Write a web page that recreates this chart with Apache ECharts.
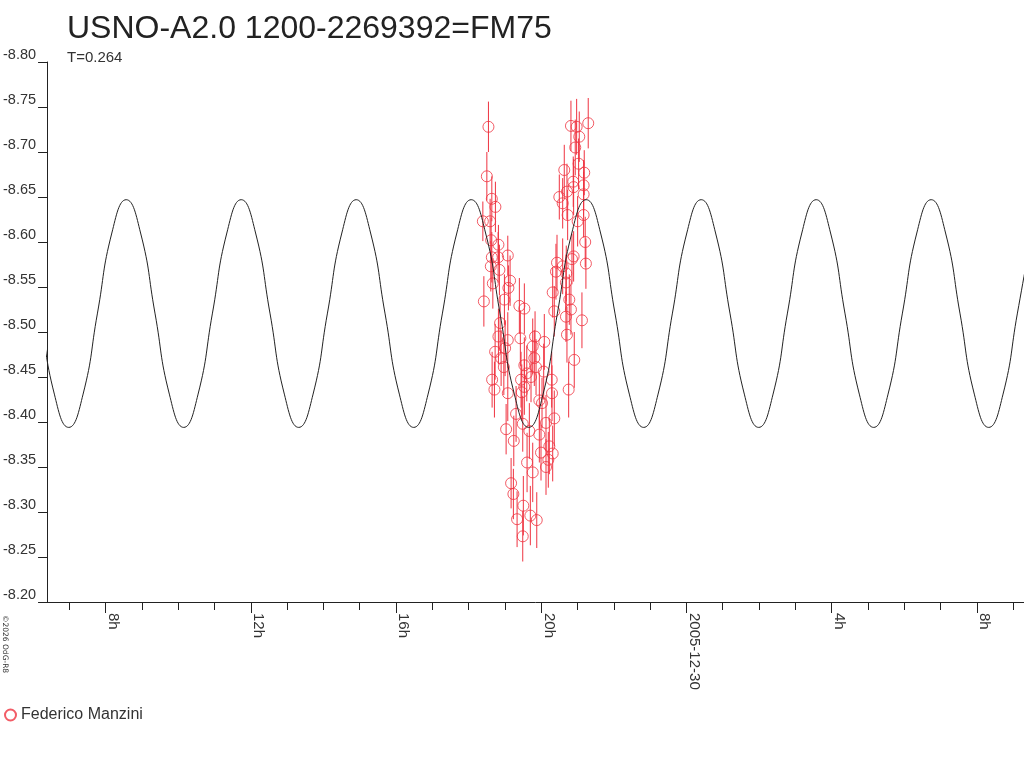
<!DOCTYPE html>
<html>
<head>
<meta charset="utf-8">
<script src="https://cdn.jsdelivr.net/npm/echarts@6/dist/echarts.min.js"></script>
<style>
  html, body { margin: 0; padding: 0; background: #fff; }
  #chart { width: 1024px; height: 768px; }
</style>
</head>
<body>
<div id="chart"></div>
<script>
// hours counted from 2005-12-29 00:00
const obsTime = [
  18.546, 18.502, 18.639, 18.738, 18.392, 18.592, 18.620, 18.821, 19.079, 20.819,
  20.976, 21.295, 21.048, 20.937, 21.030, 21.185, 20.635, 20.882, 21.168, 20.709,
  20.498, 21.168, 20.591, 20.893, 20.728, 21.003, 21.168, 21.212, 20.893, 18.639,
  18.848, 19.142, 19.096, 18.667, 18.420, 18.986, 19.398, 19.535, 18.821, 19.079,
  19.425, 19.830, 20.085, 19.766, 18.730, 18.895, 19.535, 19.810, 18.970, 18.647,
  18.711, 19.079, 19.444, 19.535, 19.857, 19.719, 20.289, 20.297, 20.756, 20.910,
  21.231, 20.435, 20.406, 20.591, 20.681, 20.316, 20.773, 20.819, 20.360, 20.681,
  21.122, 20.709, 19.948, 20.068, 19.033, 19.244, 19.307, 19.491, 19.673, 19.948,
  20.132, 20.360, 20.022, 20.223, 19.994, 20.316, 20.195, 20.132, 19.610, 19.766,
  19.170, 19.233, 19.507, 19.335, 19.700, 19.877, 19.491, 18.813, 18.611, 18.867,
  19.005, 19.464, 19.602, 20.847, 20.690
];
const obsMag = [
  -8.728, -8.673, -8.648, -8.639, -8.623, -8.623, -8.602, -8.597, -8.585, -8.729,
  -8.728, -8.732, -8.717, -8.705, -8.687, -8.677, -8.680, -8.667, -8.663, -8.656,
  -8.650, -8.653, -8.643, -8.661, -8.630, -8.623, -8.630, -8.600, -8.584, -8.583,
  -8.569, -8.557, -8.549, -8.554, -8.534, -8.536, -8.529, -8.526, -8.495, -8.491,
  -8.493, -8.495, -8.489, -8.484, -8.478, -8.471, -8.463, -8.471, -8.461, -8.447,
  -8.436, -8.432, -8.447, -8.439, -8.461, -8.450, -8.447, -8.432, -8.436, -8.469,
  -8.576, -8.577, -8.567, -8.573, -8.555, -8.544, -8.536, -8.525, -8.523, -8.517,
  -8.513, -8.497, -8.424, -8.456, -8.392, -8.379, -8.409, -8.398, -8.390, -8.386,
  -8.399, -8.404, -8.421, -8.373, -8.366, -8.365, -8.358, -8.350, -8.355, -8.344,
  -8.332, -8.320, -8.307, -8.292, -8.296, -8.291, -8.273, -8.583, -8.573, -8.510,
  -8.482, -8.433, -8.454, -8.581, -8.565
];
const obsErr = [
  0.028, 0.027, 0.025, 0.028, 0.022, 0.025, 0.025, 0.022, 0.022, 0.028,
  0.031, 0.028, 0.028, 0.031, 0.028, 0.025, 0.028, 0.028, 0.028, 0.031,
  0.025, 0.025, 0.028, 0.031, 0.028, 0.028, 0.025, 0.028, 0.028, 0.028,
  0.028, 0.028, 0.025, 0.028, 0.028, 0.028, 0.031, 0.028, 0.031, 0.031,
  0.031, 0.028, 0.031, 0.031, 0.031, 0.031, 0.031, 0.031, 0.031, 0.031,
  0.031, 0.031, 0.031, 0.031, 0.031, 0.028, 0.031, 0.031, 0.031, 0.031,
  0.028, 0.031, 0.031, 0.031, 0.031, 0.028, 0.028, 0.028, 0.028, 0.028,
  0.031, 0.031, 0.031, 0.031, 0.028, 0.028, 0.031, 0.031, 0.031, 0.031,
  0.031, 0.031, 0.028, 0.031, 0.031, 0.031, 0.031, 0.031, 0.033, 0.033,
  0.028, 0.028, 0.033, 0.031, 0.033, 0.031, 0.028, 0.028, 0.028, 0.031,
  0.031, 0.031, 0.031, 0.028, 0.031
];

// fitted light curve, read at eighth-period steps
const fitTime = [
  5.399, 5.795, 6.191, 6.587, 6.983, 7.379, 7.775, 8.171,
  8.567, 8.963, 9.359, 9.755, 10.151, 10.547, 10.943, 11.339,
  11.735, 12.131, 12.527, 12.923, 13.319, 13.715, 14.111, 14.507,
  14.903, 15.299, 15.695, 16.091, 16.487, 16.883, 17.279, 17.675,
  18.071, 18.467, 18.863, 19.259, 19.655, 20.051, 20.447, 20.843,
  21.239, 21.635, 22.031, 22.427, 22.823, 23.219, 23.615, 24.011,
  24.407, 24.803, 25.199, 25.595, 25.991, 26.387, 26.783, 27.179,
  27.575, 27.971, 28.367, 28.763, 29.159, 29.555, 29.951, 30.347,
  30.743, 31.139, 31.535, 31.931, 32.327, 32.723, 33.119, 33.515
];
const fitMag = [
  -8.647, -8.610, -8.521, -8.431, -8.394, -8.431, -8.521, -8.610,
  -8.647, -8.610, -8.521, -8.431, -8.394, -8.431, -8.521, -8.610,
  -8.647, -8.610, -8.521, -8.431, -8.394, -8.431, -8.521, -8.610,
  -8.647, -8.610, -8.521, -8.431, -8.394, -8.431, -8.521, -8.610,
  -8.647, -8.610, -8.521, -8.431, -8.394, -8.431, -8.521, -8.610,
  -8.647, -8.610, -8.521, -8.431, -8.394, -8.431, -8.521, -8.610,
  -8.647, -8.610, -8.521, -8.431, -8.394, -8.431, -8.521, -8.610,
  -8.647, -8.610, -8.521, -8.431, -8.394, -8.431, -8.521, -8.610,
  -8.647, -8.610, -8.521, -8.431, -8.394, -8.431, -8.521, -8.610
];

const xMinorTicks = [7, 8, 9, 10, 11, 12, 13, 14, 15, 16, 17, 18, 19, 20, 21, 22, 23, 24, 25, 26, 27, 28, 29, 30, 31, 32, 33];
const xMajorTicks = [8, 12, 16, 20, 24, 28, 32];
const xMin = 6.386, xMax = 33.30;

const RED = '#ef3340';
const INK = '#222';

const chart = echarts.init(document.getElementById('chart'));

const errData = obsTime.map((t, i) => [t, obsMag[i] - obsErr[i], obsMag[i] + obsErr[i]]);
const obsData = obsTime.map((t, i) => [t, obsMag[i]]);
const fitData = fitTime.map((t, i) => [t, fitMag[i]]);

chart.setOption({
  animation: false,
  textStyle: { fontFamily: 'Liberation Sans, Arial, sans-serif' },
  title: {
    text: 'USNO-A2.0 1200-2269392=FM75',
    subtext: 'T=0.264',
    left: 62,
    top: 8,
    itemGap: 5,
    textStyle: { fontSize: 32, fontWeight: 'normal', color: INK },
    subtextStyle: { fontSize: 15, color: '#333' }
  },
  legend: {
    left: 4,
    top: 707,
    padding: 0,
    itemWidth: 11,
    itemHeight: 11,
    textStyle: { fontSize: 16, color: '#333' },
    data: ['Federico Manzini']
  },
  grid: { left: 45, right: 0, top: 62, bottom: 166, containLabel: false },
  xAxis: [
    {
      type: 'value', min: xMin, max: xMax,
      axisLine: { lineStyle: { color: INK, width: 1 } },
      axisTick: { customValues: xMinorTicks, length: 8, lineStyle: { color: INK } },
      axisLabel: { show: false },
      splitLine: { show: false }
    },
    {
      type: 'value', min: xMin, max: xMax, position: 'bottom',
      axisLine: { show: false },
      axisTick: { customValues: xMajorTicks, length: 11, lineStyle: { color: INK } },
      axisLabel: {
        customValues: xMajorTicks,
        rotate: -90,
        margin: 11,
        verticalAlign: 'bottom',
        fontSize: 15,
        color: '#333',
        formatter: v => (v === 24 ? '2005-12-30' : (v % 24) + 'h')
      },
      splitLine: { show: false }
    }
  ],
  yAxis: {
    type: 'value', inverse: true, min: -8.80, max: -8.20, interval: 0.05,
    axisLine: { show: true, lineStyle: { color: INK, width: 1 } },
    axisTick: { show: true, length: 9, lineStyle: { color: INK } },
    axisLabel: {
      margin: 11,
      fontSize: 14.5,
      color: '#333',
      verticalAlign: 'bottom',
      formatter: v => v.toFixed(2)
    },
    splitLine: { show: false }
  },
  graphic: [
    {
      type: 'text', x: 1, y: 615, rotation: -Math.PI / 2,
      style: { text: '\u00a92026 OdG-R8', font: '7.5px "DejaVu Sans", sans-serif', fill: '#333', align: 'left', verticalAlign: 'bottom' }
    }
  ],
  series: [
    {
      type: 'custom',
      xAxisIndex: 0,
      renderItem: (params, api) => {
        const a = api.coord([api.value(0), api.value(1)]);
        const b = api.coord([api.value(0), api.value(2)]);
        return {
          type: 'line',
          shape: { x1: a[0], y1: a[1], x2: b[0], y2: b[1] },
          style: { stroke: RED, lineWidth: 1 }
        };
      },
      encode: { x: 0, y: [1, 2] },
      data: errData,
      z: 2
    },
    {
      name: 'Federico Manzini',
      type: 'scatter',
      xAxisIndex: 0,
      symbol: 'circle',
      symbolSize: 11,
      itemStyle: { color: 'rgba(255,255,255,0)', borderColor: RED, borderWidth: 1 },
      emphasis: { disabled: true },
      data: obsData,
      z: 3
    },
    {
      type: 'line',
      xAxisIndex: 0,
      smooth: 0.5,
      showSymbol: false,
      lineStyle: { color: INK, width: 1 },
      data: fitData,
      z: 4
    }
  ]
});
</script>
</body>
</html>
